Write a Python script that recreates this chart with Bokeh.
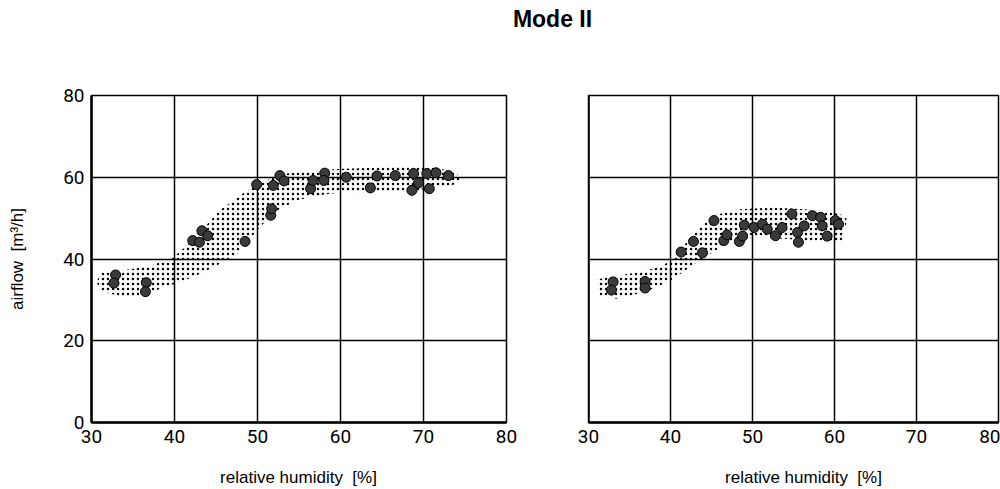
from bokeh.plotting import figure
from bokeh.layouts import column, row
from bokeh.models import Range1d, Label, Span
from bokeh.core.properties import value
from bokeh.embed import file_html
from bokeh.resources import INLINE

# ---------------- data ----------------
x_ticks = [30, 40, 50, 60, 70, 80]
y_ticks = [0, 20, 40, 60, 80]

kitchen_rh = [32.9, 32.7, 36.6, 36.5, 42.2, 43.0, 43.3, 44.0, 48.5, 49.9,
              51.6, 51.7, 51.9, 52.7, 53.2, 56.4, 56.7, 58.1, 58.0, 60.7,
              63.6, 64.4, 66.6, 68.8, 68.6, 69.4, 70.4, 70.7, 71.5, 73.0]
kitchen_flow = [36.1, 34.1, 34.2, 32.0, 44.5, 44.1, 46.9, 45.7, 44.3, 58.2,
                50.7, 52.3, 58.0, 60.4, 59.1, 57.2, 59.2, 61.0, 59.2, 60.0,
                57.4, 60.3, 60.4, 60.9, 56.8, 58.6, 60.9, 57.2, 61.1, 60.4]

kitchen_band_upper_rh = [30.6, 31.1, 34.7, 37.5, 39.9, 41.9, 43.5, 45.5, 48.8,
                         51.2, 53.1, 56.0, 59.6, 64.0, 68.4, 71.5, 73.5, 74.6]
kitchen_band_upper_flow = [34.3, 36.6, 37.5, 38.6, 40.5, 44.0, 47.5, 52.0, 56.8,
                           59.3, 60.8, 61.6, 62.0, 62.3, 62.6, 62.3, 61.4, 60.0]
kitchen_band_lower_rh = [31.3, 33.9, 36.0, 38.7, 40.7, 42.7, 44.7, 46.5, 47.6,
                         50.0, 52.0, 54.8, 57.5, 60.0, 64.8, 69.3, 73.5]
kitchen_band_lower_flow = [32.0, 30.7, 31.0, 33.0, 34.4, 36.0, 38.0, 40.0, 41.4,
                           47.1, 51.5, 54.4, 55.6, 56.3, 56.3, 56.8, 58.0]

bathroom_rh = [33.0, 32.8, 36.9, 36.9, 41.3, 42.8, 43.9, 45.3, 46.5, 46.9,
               48.4, 48.8, 49.0, 50.2, 51.2, 51.8, 52.8, 53.6, 54.8, 55.5,
               55.6, 56.3, 57.3, 58.3, 58.5, 59.1, 60.1, 60.5]
bathroom_flow = [34.4, 32.4, 34.5, 32.9, 41.7, 44.3, 41.5, 49.4, 44.5, 45.9,
                 44.3, 45.6, 48.3, 47.7, 48.5, 47.3, 45.7, 47.7, 51.0, 46.5,
                 44.1, 48.1, 50.6, 50.2, 48.1, 45.6, 49.4, 48.5]

bathroom_band_upper_rh = [31.0, 33.0, 36.3, 38.5, 40.1, 42.3, 45.1, 48.4,
                          52.4, 56.4, 59.5, 61.3, 61.5]
bathroom_band_upper_flow = [35.0, 35.8, 36.8, 38.0, 39.6, 44.9, 50.6, 52.2,
                            52.6, 52.2, 51.5, 50.6, 49.5]
bathroom_band_lower_rh = [31.4, 33.4, 36.9, 40.1, 43.5, 47.1, 50.4, 54.4,
                          58.5, 60.9, 61.2]
bathroom_band_lower_flow = [31.1, 30.3, 31.9, 34.8, 39.6, 44.1, 45.3, 44.9,
                            44.1, 44.5, 46.5]

main_title = "Mode II"
panel_titles = ["kitchen", "bathroom"]
x_label = "relative humidity \u00a0[%]"
y_label = "airflow \u00a0[m³/h]"

# ---------------- styling helpers ----------------
TICK_FONT = "Roboto"
TEXT_FONT = "Liberation Sans"


def style_panel(p, show_y):
    p.background_fill_color = "white"
    p.border_fill_color = "white"
    p.outline_line_color = "black"
    p.outline_line_width = 1.5
    p.outline_line_alpha = 1.0
    for g in (p.xgrid, p.ygrid):
        g.grid_line_color = "black"
        g.grid_line_width = 1.5
        g.grid_line_alpha = 1.0
    p.xgrid.ticker = x_ticks
    p.ygrid.ticker = y_ticks
    axes = [p.xaxis] + ([p.yaxis] if show_y else [])
    for ax in axes:
        ax.axis_line_color = "black"
        ax.axis_line_width = 2.5
        ax.major_tick_in = 0
        ax.major_tick_out = 0
        ax.minor_tick_in = 0
        ax.minor_tick_out = 0
        ax.major_label_text_font = TICK_FONT
        ax.major_label_text_font_size = "19px"
        ax.major_label_text_color = "black"
        ax.axis_label_text_font = TEXT_FONT
        ax.axis_label_text_font_size = "17px"
        ax.axis_label_text_font_style = "normal"
        ax.axis_label_text_color = "black"
    p.xaxis.ticker = x_ticks
    p.xaxis.major_label_standoff = 7
    if show_y:
        p.yaxis.ticker = y_ticks
        p.yaxis.major_label_standoff = 7
        p.yaxis.axis_label_standoff = 33


def add_band(p, ux, uy, lx, ly):
    xs = list(ux) + list(reversed(lx))
    ys = list(uy) + list(reversed(ly))
    p.patch(xs, ys, fill_color=None, line_color=None,
            hatch_pattern="dot", hatch_color="black",
            hatch_scale=5.0, hatch_weight=2.0)


def add_points(p, xs, ys):
    p.scatter(xs, ys, marker="circle", size=10, fill_color="#3a3a3a",
              line_color="#000000", line_width=1)


def strip(height):
    f = figure(width=1000, height=height, x_range=Range1d(0, 1000),
               y_range=Range1d(0, height), x_axis_location=None,
               y_axis_location=None, min_border=0, outline_line_color=None,
               toolbar_location=None, output_backend="svg")
    f.xgrid.visible = False
    f.ygrid.visible = False
    return f


# ---------------- header ----------------
header = strip(36)
header.text(x=[552], y=[18], text=[main_title], text_align="center",
            text_baseline="middle", text_font=value(TEXT_FONT),
            text_font_style="bold", text_font_size="23px", text_color="black")

# ---------------- kitchen ----------------
p1 = figure(width=548, height=424, x_range=Range1d(30, 80), y_range=Range1d(0, 80),
            min_border_left=91, min_border_right=42, min_border_top=59,
            min_border_bottom=37, toolbar_location=None, output_backend="svg",
            y_axis_label=y_label)
style_panel(p1, True)
add_band(p1, kitchen_band_upper_rh, kitchen_band_upper_flow,
         kitchen_band_lower_rh, kitchen_band_lower_flow)
add_points(p1, kitchen_rh, kitchen_flow)
p1.add_layout(Label(x=55.5, y=88.5, text=panel_titles[0], text_align="center",
                    text_baseline="middle", text_font=TEXT_FONT,
                    text_font_size="16px", text_color="black"))

# ---------------- bathroom ----------------
p2 = figure(width=452, height=424, x_range=Range1d(30, 80), y_range=Range1d(0, 80),
            min_border_left=40, min_border_right=2, min_border_top=56,
            min_border_bottom=38, toolbar_location=None, output_backend="svg",
            y_axis_location=None)
style_panel(p2, False)
p2.add_layout(Span(location=30, dimension="height", line_color="black", line_width=2.5))
add_band(p2, bathroom_band_upper_rh, bathroom_band_upper_flow,
         bathroom_band_lower_rh, bathroom_band_lower_flow)
add_points(p2, bathroom_rh, bathroom_flow)
p2.add_layout(Label(x=58.0, y=87.8, text=panel_titles[1], text_align="center",
                    text_baseline="middle", text_font=TEXT_FONT,
                    text_font_size="16px", text_color="black"))

# ---------------- footer: x-axis titles ----------------
footer = strip(29)
footer.text(x=[298, 803], y=[12, 12], text=[x_label, x_label], text_align="center",
            text_baseline="middle", text_font=value(TEXT_FONT),
            text_font_size="17px", text_color="black")

layout = column(header, row(p1, p2, spacing=0), footer, spacing=0)

open("out.html", "w").write(file_html(layout, INLINE))
